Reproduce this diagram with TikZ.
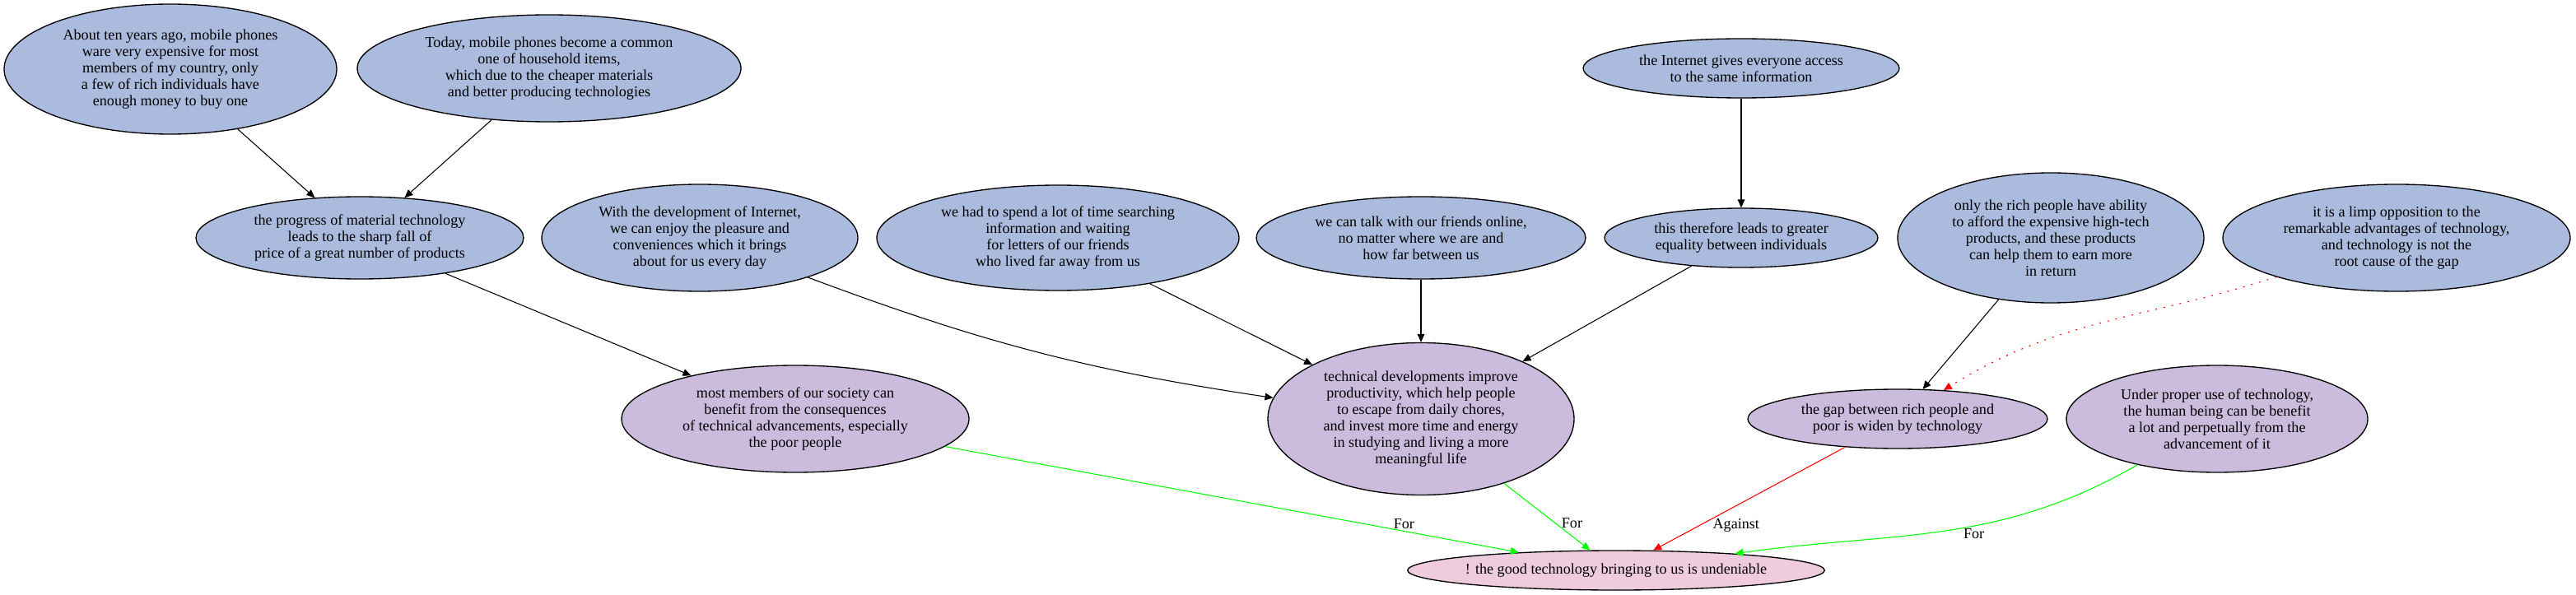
\documentclass[tikz,border=0pt]{standalone}
\usepackage{fontspec}
\setmainfont{Liberation Serif}
\usetikzlibrary{shapes.geometric,arrows.meta}

\definecolor{premblue}{HTML}{AABBDD}
\definecolor{claimpurple}{HTML}{CBBBDD}
\definecolor{thesispink}{HTML}{EECCDD}
\definecolor{forgreen}{HTML}{00FF00}
\definecolor{againstred}{HTML}{FF0000}

\begin{document}
\begin{tikzpicture}[
  every node/.style={font=\fontsize{13.6}{15}\selectfont, align=center},
  arg/.style={ellipse, draw, line width=1pt, inner sep=0pt},
  premise/.style={arg, fill=premblue},
  claim/.style={arg, fill=claimpurple},
  thesis/.style={arg, fill=thesispink},
  link/.style={line width=0.8pt, -{Triangle[length=7.5pt,width=6.5pt]}},
  forlink/.style={link, color=forgreen},
  againstlink/.style={link, color=againstred},
  objection/.style={link, color=againstred, dash pattern=on 1.5pt off 6pt},
  edgelabel/.style={inner sep=2pt, text=black}
]
\def\px{0.75pt}
\useasboundingbox (0,0) rectangle (3129*\px,-723*\px);

% upper row
\node[premise,
      minimum width=404*\px,
      minimum height=158*\px] (about) at (207*\px,-84*\px)
      {About ten years ago, mobile phones\\ware very expensive for most\\members of my country, only\\a few of rich individuals have\\enough money to buy one};

\node[premise,
      minimum width=466*\px,
      minimum height=130*\px] (today) at (667*\px,-83*\px)
      {Today, mobile phones become a common\\one of household items,\\which due to the cheaper materials\\and better producing technologies};

\node[premise,
      minimum width=384*\px,
      minimum height=72*\px] (access) at (2115*\px,-83*\px)
      {the Internet gives everyone access\\to the same information};

% second row
\node[premise,
      minimum width=398*\px,
      minimum height=100*\px] (material) at (437*\px,-289*\px)
      {the progress of material technology\\leads to the sharp fall of\\price of a great number of products};

\node[premise,
      minimum width=384*\px,
      minimum height=130*\px] (internet) at (850*\px,-289*\px)
      {With the development of Internet,\\we can enjoy the pleasure and\\conveniences which it brings\\about for us every day};

\node[premise,
      minimum width=440*\px,
      minimum height=128*\px] (letters) at (1285*\px,-289*\px)
      {we had to spend a lot of time searching\\information and waiting\\for letters of our friends\\who lived far away from us};

\node[premise,
      minimum width=400*\px,
      minimum height=100*\px] (online) at (1726*\px,-289*\px)
      {we can talk with our friends online,\\no matter where we are and\\how far between us};

\node[premise,
      minimum width=332*\px,
      minimum height=72*\px] (equality) at (2115*\px,-289*\px)
      {this therefore leads to greater\\equality between individuals};

\node[premise,
      minimum width=372*\px,
      minimum height=158*\px] (rich) at (2491*\px,-289*\px)
      {only the rich people have ability\\to afford the expensive high-tech\\products, and these products\\can help them to earn more\\in return};

\node[premise,
      minimum width=422*\px,
      minimum height=130*\px] (limp) at (2911*\px,-289*\px)
      {it is a limp opposition to the\\remarkable advantages of technology,\\and technology is not the\\root cause of the gap};

% third row
\node[claim,
      minimum width=422*\px,
      minimum height=130*\px] (benefit) at (966*\px,-509*\px)
      {most members of our society can\\benefit from the consequences\\of technical advancements, especially\\the poor people};

\node[claim,
      minimum width=372*\px,
      minimum height=185*\px] (productivity) at (1726*\px,-509*\px)
      {technical developments improve\\productivity, which help people\\to escape from daily chores,\\and invest more time and energy\\in studying and living a more\\meaningful life};

\node[claim,
      minimum width=364*\px,
      minimum height=72*\px] (gap) at (2305*\px,-509*\px)
      {the gap between rich people and\\poor is widen by technology};

\node[claim,
      minimum width=366*\px,
      minimum height=130*\px] (proper) at (2693*\px,-509*\px)
      {Under proper use of technology,\\the human being can be benefit\\a lot and perpetually from the\\advancement of it};

% conclusion
\node[thesis, inner xsep=-3pt,
      minimum width=504*\px,
      minimum height=48*\px] (good) at (1963*\px,-693*\px)
      {! the good technology bringing to us is undeniable};

\draw[link] (about) -- (material);
\draw[link] (today) -- (material);
\draw[link] (access) -- (equality);
\draw[link] (material) -- (benefit);
\draw[link] (internet) to[bend right=6] (productivity);
\draw[link] (letters) -- (productivity);
\draw[link] (online) -- (productivity);
\draw[link] (equality) -- (productivity);
\draw[link] (rich) -- (gap);
\draw[objection] (limp) to[out=198,in=32] (gap);

\draw[forlink] (benefit) -- node[edgelabel, pos=0.8, above] (for1) {For} (good);
\draw[forlink] (productivity) -- node[edgelabel, pos=0.6, right=3pt] (for2) {For} (good);
\draw[againstlink] (gap) -- node[edgelabel, pos=0.76, right=10pt] (against) {Against} (good);
\draw[forlink] (proper) to[out=210,in=8] node[edgelabel, pos=0.42, below] (for3) {For} (good);
\end{tikzpicture}
\end{document}
